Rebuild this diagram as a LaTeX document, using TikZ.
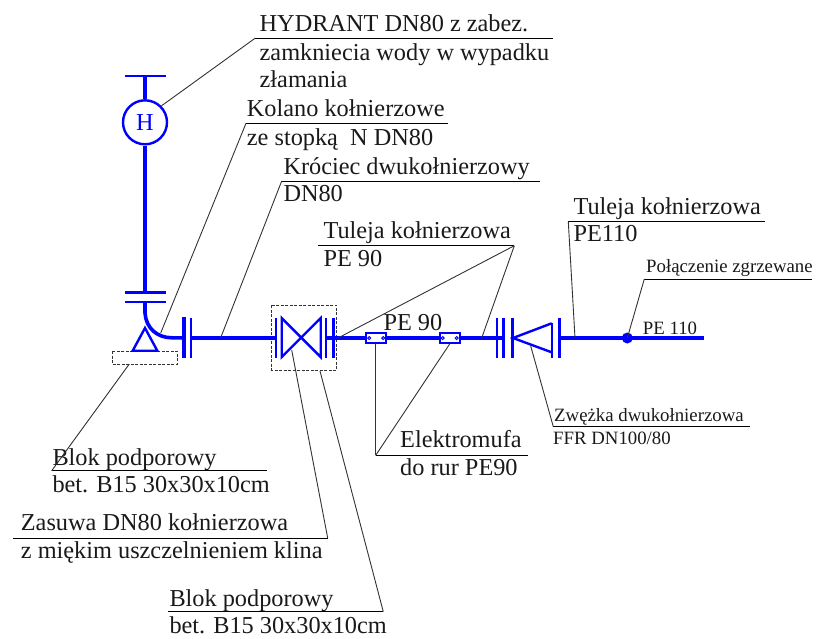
\documentclass[tikz,border=0pt]{standalone}
\usepackage{fontspec}
\setmainfont{Liberation Serif}
\definecolor{pipeblue}{RGB}{0,0,255}
\definecolor{leadgray}{RGB}{50,50,50}
\tikzset{
  pipe/.style={draw=pipeblue, line width=3.6pt},
  fitting/.style={draw=pipeblue, line width=2.4pt},
  leader/.style={draw=leadgray, line width=0.9pt},
  shelf/.style={draw=black, line width=1pt},
  outline/.style={draw=black!80, dashed, line width=0.9pt, dash pattern=on 3pt off 1.5pt},
  big/.style={anchor=base west, inner sep=0pt, text=black!90, font=\fontsize{24.3}{28}\selectfont},
  small/.style={anchor=base west, inner sep=0pt, text=black!90, font=\fontsize{18.8}{22}\selectfont},
  mufa/.style={draw=pipeblue, fill=white, line width=1.8pt, minimum width=20pt, minimum height=10pt, inner sep=0pt}
}
\begin{document}
\begin{tikzpicture}[x=1pt, y=-1pt]
      \useasboundingbox (0, 0) rectangle (816, 638);
      %% dashed outlines
      \draw [outline] (112.3, 351) rectangle (177.3, 364);
      \draw [outline] (271.7, 305.3) rectangle (336.7, 370);
      %% hydrant
      \node (hyd) [circle, draw=pipeblue, line width=2.4pt, minimum size=44pt, inner sep=0pt, text=pipeblue,
        font=\fontsize{24.3}{28}\selectfont] at (145, 122.3) {H};
      \coordinate (hydtop) at (145, 75.7);
      \coordinate (flangeA) at (145, 292.3);
      \coordinate (flangeB) at (145, 301.7);
      \draw [pipe] (hydtop) -- (hyd.north);
      \draw [pipe] (hyd.south) -- (flangeA);
      \draw [fitting] (125, 75.7) -- (165.7, 75.7);
      \draw [fitting] (125, 292.3) -- (165.7, 292.3);
      \draw [fitting] (125, 301.7) -- (165.7, 301.7);
      %% elbow and support
      \coordinate (elbowend) at (184, 337.8);
      \draw [pipe] (flangeB) -- (145, 313) .. controls (146, 328) and (157, 337.8) .. (172, 337.8) -- (elbowend);
      \draw [fitting] (145, 328) -- (157.3, 350.7) -- (132.7, 350.7) -- cycle;
      %% flanges
      \draw [pipe] (184, 317) -- (184, 358);
      \foreach \fx in {191, 275.7, 281.7, 326, 333.3, 496.7, 503.3, 512.3, 559.3}
        \draw [fitting] (\fx, 318) -- (\fx, 358);
      \draw [fitting] (551.7, 323) -- (551.7, 358);
      %% pipe runs
      \draw [pipe] (191, 337.8) -- (276, 337.8);
      \draw [pipe] (326, 337.8) -- (505, 337.8);
      \draw [pipe] (559.3, 337.8) -- (704, 337.8);
      %% valve and reducer
      \draw [fitting] (281.7, 318) -- (320.7, 357) -- (320.7, 318) -- (281.7, 357) -- cycle;
      \draw [fitting] (551.7, 323.3) -- (513, 338) -- (551.7, 352.3);
      %% couplers
      \node (mufaA) [mufa] at (376.2, 338) {};
      \node (mufaB) [mufa] at (449.7, 338) {};
      \foreach \m in {mufaA, mufaB} {
        \draw [draw=pipeblue, fill=white, line width=1pt] (\m.center) ++(-7, 0) circle (1.5pt);
        \draw [draw=pipeblue, fill=white, line width=1pt] (\m.center) ++(7, 0) circle (1.5pt);
      }
      \node (weld) [circle, fill=pipeblue, minimum size=11pt, inner sep=0pt] at (627.3, 338) {};
      %% labels
      \node (hydA) [big] at (259.5, 31.5) {HYDRANT DN80 z zabez.};
      \node (hydB) [big] at (259.5, 60.5) {zamkniecia wody w wypadku};
      \node (hydC) [big] at (259.5, 87.5) {złamania};
      \node (kolA) [big] at (246.7, 116.5) {Kolano kołnierzowe};
      \node (kolB) [big] at (246.7, 145.5) {ze stopką\ \ N DN80};
      \node (kroA) [big] at (283.3, 174) {Króciec dwukołnierzowy};
      \node (kroB) [big] at (283.3, 201.5) {DN80};
      \node (tulA) [big] at (323.3, 238.5) {Tuleja kołnierzowa};
      \node (tulB) [big] at (323.3, 266) {PE 90};
      \node (pipeA) [big] at (383.3, 330) {PE 90};
      \node (tucA) [big] at (573.3, 214) {Tuleja kołnierzowa};
      \node (tucB) [big] at (573.3, 241.5) {PE110};
      \node (polA) [small] at (646, 272.7) {Połączenie zgrzewane};
      \node (pipeB) [small] at (642.7, 334) {PE 110};
      \node (zweA) [small] at (554, 421.7) {Zwężka dwukołnierzowa};
      \node (zweB) [small] at (553, 444) {FFR DN100/80};
      \node (eleA) [big] at (400, 447.7) {Elektromufa};
      \node (eleB) [big] at (400, 475) {do rur PE90};
      \node (blaA) [big] at (52.3, 465) {Blok podporowy};
      \node (blaB) [big] at (52.3, 492.5) {bet. B15 30x30x10cm};
      \node (zasA) [big] at (20.7, 530) {Zasuwa DN80 kołnierzowa};
      \node (zasB) [big] at (20.7, 558) {z miękim uszczelnieniem klina};
      \node (blbA) [big] at (169.3, 606.5) {Blok podporowy};
      \node (blbB) [big] at (169.3, 633) {bet. B15 30x30x10cm};
      %% shelves under the labels
      \coordinate (hydL) at (255, 38.3);
      \coordinate (kolL) at (246, 123.3);
      \coordinate (kroL) at (281.7, 181);
      \coordinate (tulR) at (514.3, 245.7);
      \coordinate (tucL) at (568.3, 221.7);
      \coordinate (polL) at (644.3, 279);
      \coordinate (zweL) at (553.3, 426.7);
      \coordinate (eleL) at (375.7, 455.3);
      \coordinate (blaL) at (51.7, 470.7);
      \coordinate (zasR) at (327.7, 538);
      \coordinate (blbR) at (383.3, 611.7);
      \draw [shelf] (hydL) -- (552.7, 38.3);
      \draw [shelf] (kolL) -- (448, 123.3);
      \draw [shelf] (kroL) -- (540, 181);
      \draw [shelf] (318.3, 245.7) -- (tulR);
      \draw [shelf] (tucL) -- (765, 221.7);
      \draw [shelf] (polL) -- (811.7, 279);
      \draw [shelf] (zweL) -- (750, 426.7);
      \draw [shelf] (eleL) -- (527.7, 455.3);
      \draw [shelf] (blaL) -- (266.7, 470.7);
      \draw [shelf] (13.3, 538) -- (zasR);
      \draw [shelf] (168.3, 611.7) -- (blbR);
      %% leaders
      \coordinate (kolE) at (160.7, 333);
      \coordinate (kroE) at (220.7, 337.7);
      \coordinate (tulE) at (338, 338);
      \coordinate (tulF) at (481.7, 338);
      \coordinate (tucE) at (575, 338);
      \coordinate (zweE) at (530.7, 346);
      \coordinate (blaE) at (129.3, 364);
      \coordinate (zasE) at (291.7, 350);
      \coordinate (blbE) at (320, 371);
      \draw [leader] (hydL) -- (hyd.45);
      \draw [leader] (kolL) -- (kolE);
      \draw [leader] (kroL) -- (kroE);
      \draw [leader] (tulR) -- (tulE);
      \draw [leader] (tulR) -- (tulF);
      \draw [leader] (tucL) -- (tucE);
      \draw [leader] (polL) -- (weld.center);
      \draw [leader] (zweL) -- (zweE);
      \draw [leader] (eleL) -- (mufaA.south -| eleL);
      \draw [leader] (eleL) -- (mufaB.south);
      \draw [leader] (blaL) -- (blaE);
      \draw [leader] (zasR) -- (zasE);
      \draw [leader] (blbR) -- (blbE);
    \end{tikzpicture}
\end{document}
